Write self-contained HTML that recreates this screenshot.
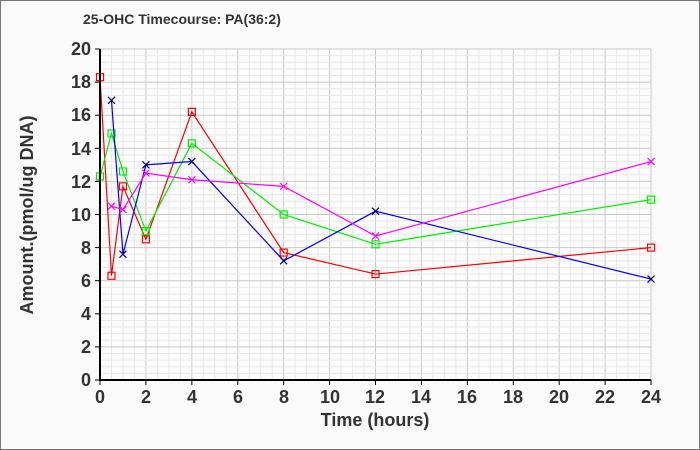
<!DOCTYPE html>
<html><head><meta charset="utf-8"><style>
body{margin:0;background:#fafafa}
svg{display:block}
text{font-family:"Liberation Sans",Arial,sans-serif;font-weight:bold;fill:#333}
</style></head><body>
<svg id="s" width="700" height="450" xmlns="http://www.w3.org/2000/svg">
<rect x="0.5" y="0.5" width="699" height="449" fill="#fafafa" stroke="#777" stroke-width="1"/>
<text x="83" y="24" font-size="14" fill="#222">25-OHC Timecourse: PA(36:2)</text>
<g id="grid"></g>
<g id="series"></g>
<line x1="100" y1="49" x2="100" y2="380" stroke="#000" stroke-width="2"/>
<line x1="99" y1="380" x2="651" y2="380" stroke="#000" stroke-width="2"/>
<g font-size="18" text-anchor="end">
<text x="91" y="386">0</text><text x="91" y="353">2</text><text x="91" y="320">4</text><text x="91" y="287">6</text><text x="91" y="254">8</text><text x="91" y="221">10</text><text x="91" y="188">12</text><text x="91" y="155">14</text><text x="91" y="121">16</text><text x="91" y="88">18</text><text x="91" y="55">20</text>
</g>
<g font-size="18" text-anchor="middle">
<text x="100" y="403">0</text><text x="146" y="403">2</text><text x="192" y="403">4</text><text x="238" y="403">6</text><text x="284" y="403">8</text><text x="330" y="403">10</text><text x="375" y="403">12</text><text x="421" y="403">14</text><text x="467" y="403">16</text><text x="513" y="403">18</text><text x="559" y="403">20</text><text x="605" y="403">22</text><text x="651" y="403">24</text>
</g>
<text x="375" y="426" font-size="18" text-anchor="middle">Time (hours)</text>
<text transform="translate(33,215) rotate(-90)" font-size="18" text-anchor="middle">Amount.(pmol/ug DNA)</text>
</svg>
<script>
const X=t=>100+t*22.96, Y=v=>380-v*16.55, NS="http://www.w3.org/2000/svg";
const g=document.getElementById('grid'), se=document.getElementById('series');
function el(p,tag,a){const e=document.createElementNS(NS,tag);for(const k in a)e.setAttribute(k,a[k]);p.appendChild(e);return e;}
el(g,'rect',{x:100,y:49,width:551,height:331,fill:'#fcfcfc'});
for(let t=0;t<=24;t+=0.5){const maj=t%2==0;el(g,'line',{x1:X(t),x2:X(t),y1:49,y2:380,stroke:maj?'#c8c8c8':'#e8e8e8','stroke-width':1});}
for(let v=0;v<=20.01;v+=0.4){const maj=Math.abs(v/2-Math.round(v/2))<0.01;el(g,'line',{x1:100,x2:651,y1:Y(v),y2:Y(v),stroke:maj?'#c8c8c8':'#e8e8e8','stroke-width':1});}
for(let t=0;t<=24;t+=2)el(g,'line',{x1:X(t),x2:X(t),y1:380,y2:385,stroke:'#000'});
for(let v=0;v<=20;v+=2)el(g,'line',{x1:95,x2:100,y1:Y(v),y2:Y(v),stroke:'#000'});
const S=[
['#ff0000','sq',[[0,18.3],[0.5,6.3],[1,11.7],[2,8.5],[4,16.2],[8,7.7],[12,6.4],[24,8.0]]],
['#00ee00','sq',[[0,12.3],[0.5,14.9],[1,12.6],[2,9.0],[4,14.3],[8,10.0],[12,8.2],[24,10.9]]],
['#0000ff','x',[[0.5,16.9],[1,7.6],[2,13.0],[4,13.2],[8,7.2],[12,10.2],[24,6.1]]],
['#ff00ff','x',[[0.5,10.5],[1,10.3],[2,12.5],[4,12.1],[8,11.7],[12,8.7],[24,13.2]]]];
for(const [c,m,d] of S){
 el(se,'polyline',{points:d.map(p=>X(p[0])+','+Y(p[1])).join(' '),fill:'none',stroke:c,'stroke-width':1.2});
 for(const p of d){const x=X(p[0]),y=Y(p[1]);
  if(m=='sq')el(se,'rect',{x:x-3.5,y:y-3.5,width:7,height:7,fill:'none',stroke:c,'stroke-width':1.2});
  else{el(se,'path',{d:`M${x-3.5} ${y-3.5}L${x+3.5} ${y+3.5}M${x-3.5} ${y+3.5}L${x+3.5} ${y-3.5}`,stroke:c=='#0000ff'?'#000066':c,'stroke-width':1.2});}
 }
}
</script>
</body></html>
